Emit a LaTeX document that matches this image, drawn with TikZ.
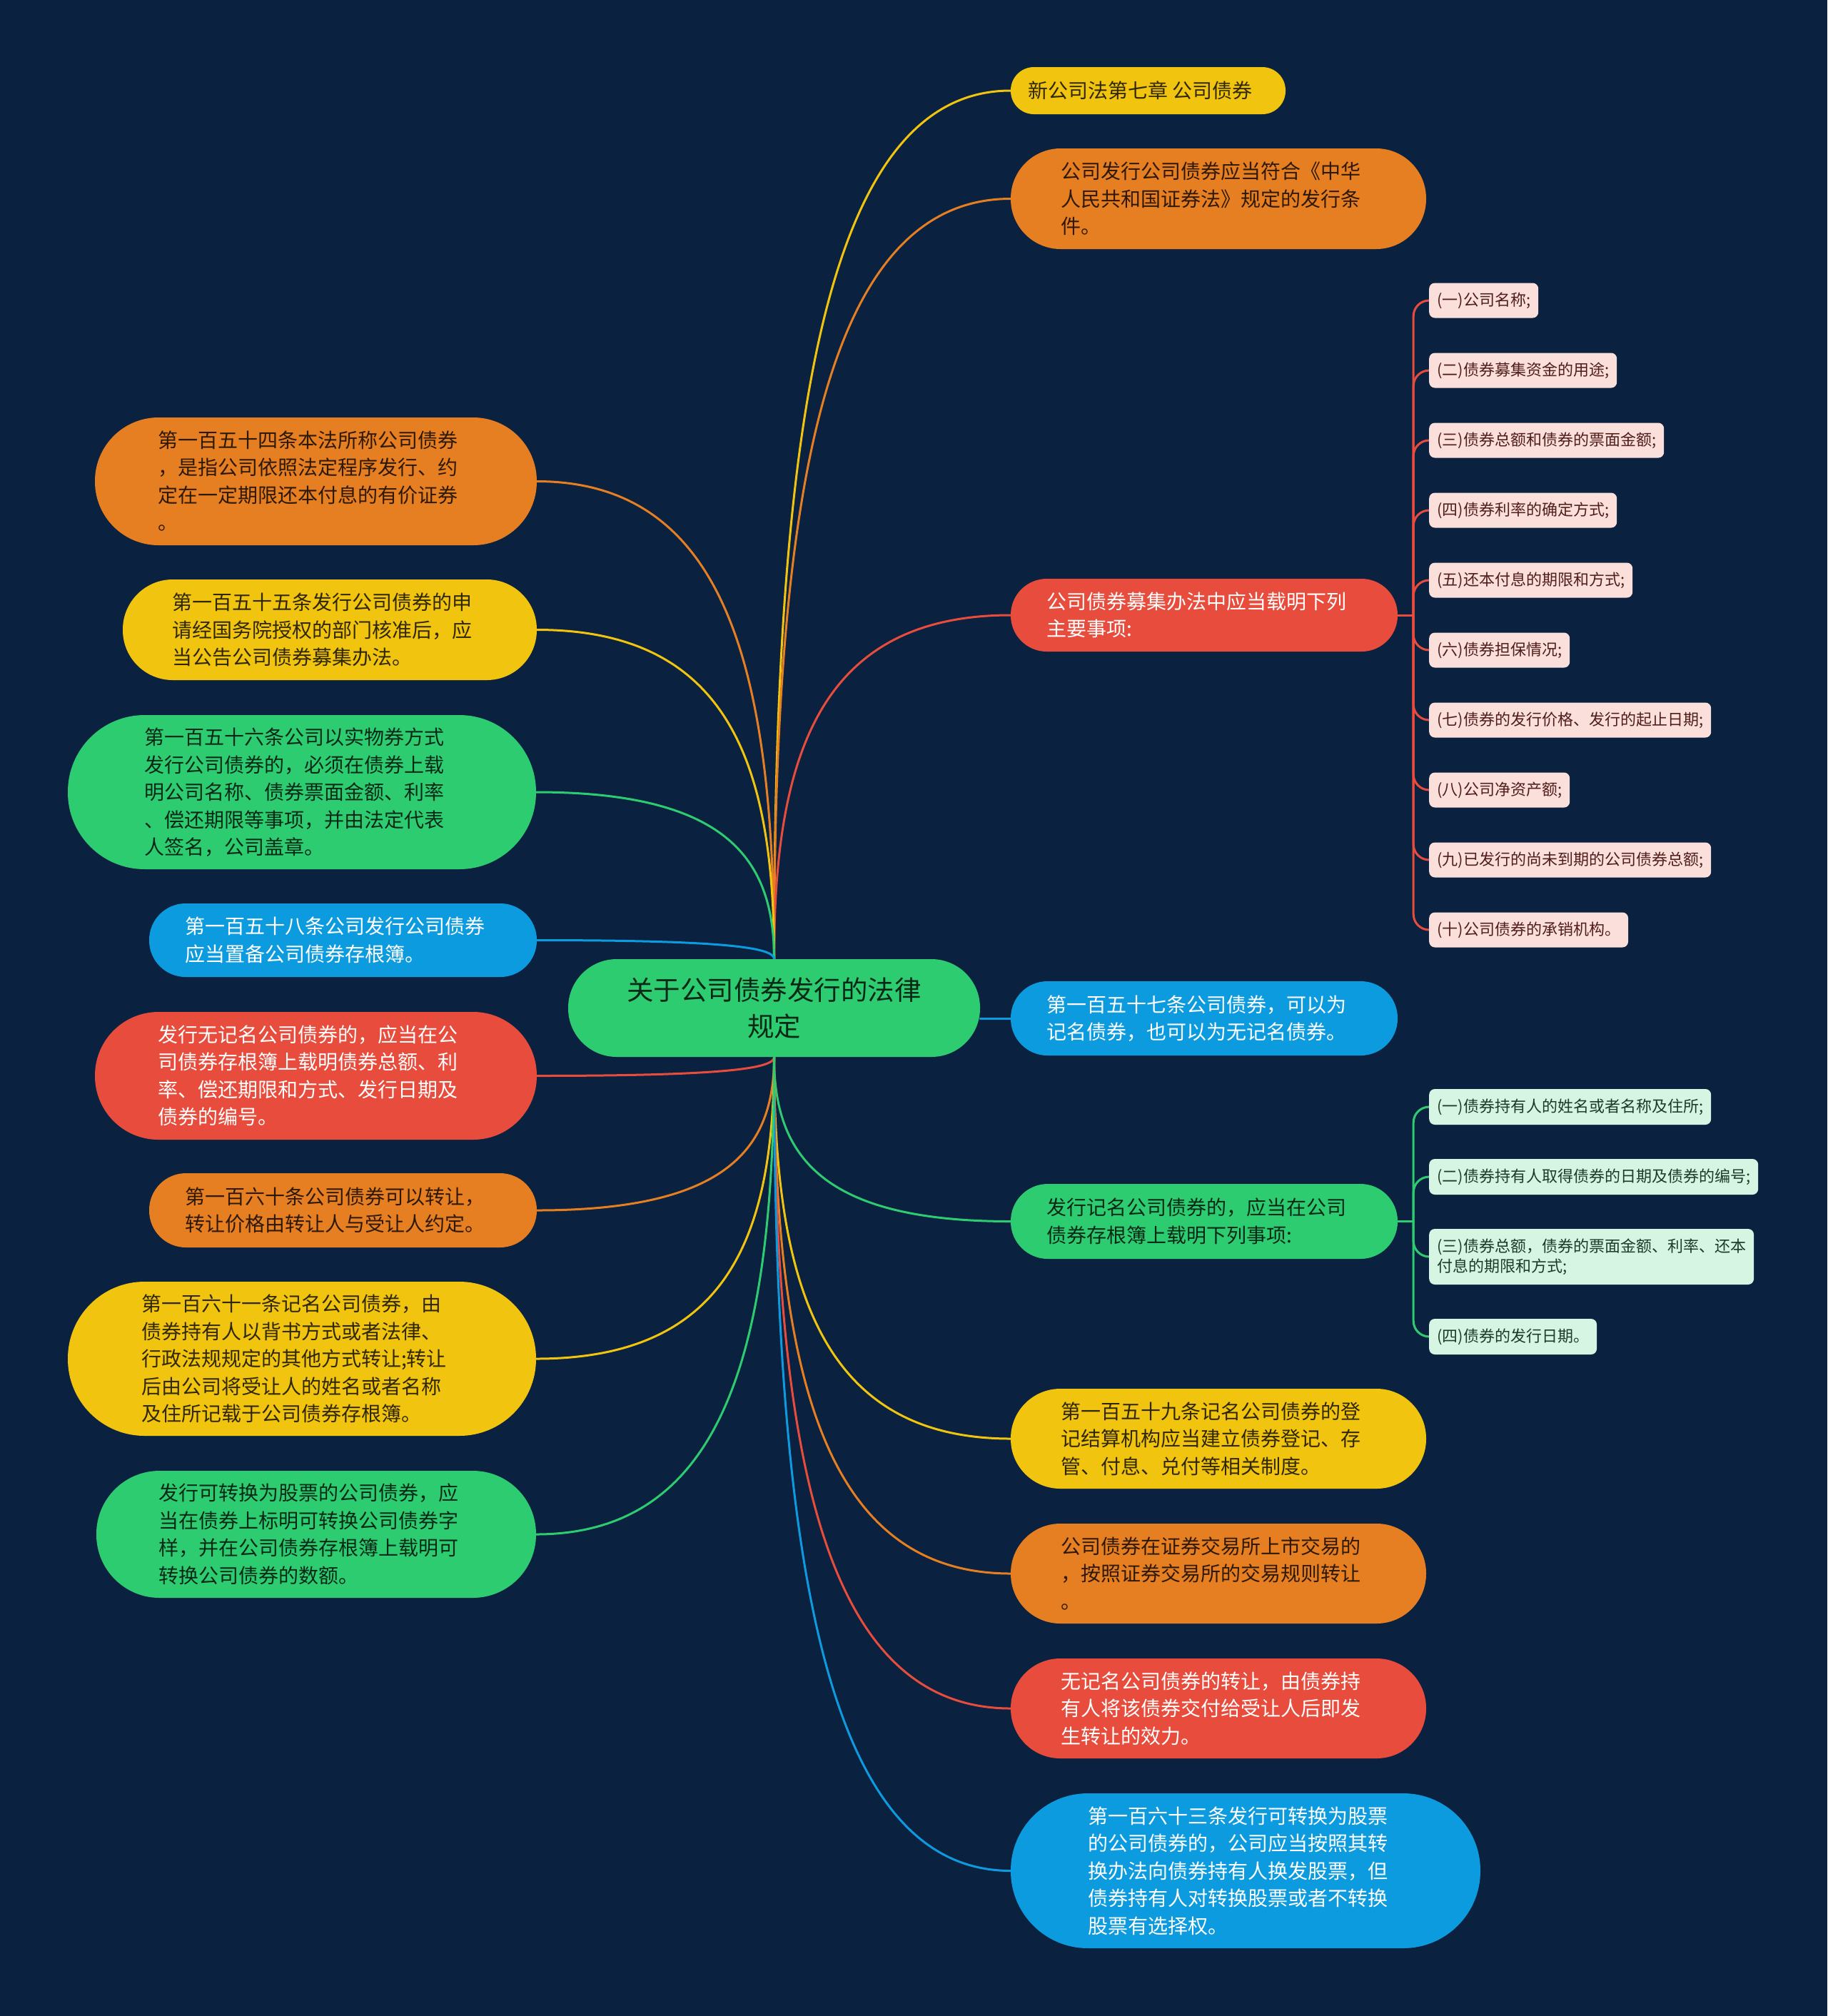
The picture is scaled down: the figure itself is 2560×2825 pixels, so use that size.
\documentclass[tikz,border=0pt]{standalone}
\usepackage{fontspec}
\setmainfont{Noto Sans CJK SC}
\usetikzlibrary{calc}
\pgfdeclarelayer{bg}
\pgfsetlayers{bg,main}
\definecolor{bgc}{RGB}{10,34,64}
\definecolor{cY}{RGB}{241,196,15}
\definecolor{cO}{RGB}{230,126,34}
\definecolor{cR}{RGB}{231,76,60}
\definecolor{cG}{RGB}{46,204,113}
\definecolor{cB}{RGB}{13,155,224}
\definecolor{pinkfill}{RGB}{251,223,219}
\definecolor{mintfill}{RGB}{214,245,227}
\definecolor{pinktext}{RGB}{80,30,26}
\definecolor{minttext}{RGB}{30,58,42}
\tikzset{
  boxsize/.style 2 args={minimum width=#1, minimum height=#2, rounded corners=#2/2-0.5},
  mainbox/.style={rectangle, inner sep=0pt, font=\fontsize{28}{38.5}\selectfont},
  mY/.style={mainbox, fill=cY, text=black!80!cY},
  mO/.style={mainbox, fill=cO, text=black!80!cO},
  mG/.style={mainbox, fill=cG, text=black!80!cG},
  mR/.style={mainbox, fill=cR, text=white},
  mB/.style={mainbox, fill=cB, text=white},
  subP/.style={rectangle, anchor=west, fill=pinkfill, text=pinktext, rounded corners=8pt, inner xsep=11pt, inner ysep=0pt, minimum height=49pt, align=left, font=\fontsize{22}{28}\selectfont},
  subG/.style={rectangle, anchor=west, fill=mintfill, text=minttext, rounded corners=8pt, inner xsep=11pt, inner ysep=0pt, minimum height=50pt, align=left, font=\fontsize{22}{28}\selectfont},
  conn/.style={line width=3pt, draw=#1, line cap=round},
}
\newcommand\tl[1]{\raisebox{0pt}[\dimexpr\height+6pt\relax][\depth]{\begin{tabular}{@{}l@{\hspace{22pt}}}#1\end{tabular}}}
\newcommand\mmlink[3]{\draw[conn=#1] (#2) .. controls ($(#2)!0.6!(#2 |- #3)$) and ($(#2 |- #3)!0.2!(#3)$) .. (#3);}
\newcommand\sublink[3]{\draw[conn=#1, rounded corners=22pt] ($(#2)+(22,0)$) |- (#3);}
\begin{document}
\begin{tikzpicture}[x=1pt, y=-1pt]
\begin{pgfonlayer}{bg}
\fill[bgc] (0,0) rectangle (2560,2825);
\end{pgfonlayer}
\useasboundingbox (0,0) rectangle (2560,2825);

% center
\node[mG, boxsize={577}{137}, align=center, font=\fontsize{37.5}{51}\selectfont] (c) at (1084.5,1412.5) {关于公司债券发行的法律\\规定};

% right side
\node[mY, boxsize={385}{66}] (r1) at (1608.5,127) {\tl{新公司法第七章 公司债券}};
\node[mO, boxsize={582}{141}] (r2) at (1707,278.5) {\tl{公司发行公司债券应当符合《中华\\人民共和国证券法》规定的发行条\\件。}};
\node[mR, boxsize={542}{102}] (r3) at (1687,862) {\tl{公司债券募集办法中应当载明下列\\主要事项:}};
\node[mB, boxsize={542}{104}] (r4) at (1687,1427) {\tl{第一百五十七条公司债券，可以为\\记名债券，也可以为无记名债券。}};
\node[mG, boxsize={542}{105}] (r5) at (1687,1711.5) {\tl{发行记名公司债券的，应当在公司\\债券存根簿上载明下列事项:}};
\node[mY, boxsize={582}{140}] (r6) at (1707,2016) {\tl{第一百五十九条记名公司债券的登\\记结算机构应当建立债券登记、存\\管、付息、兑付等相关制度。}};
\node[mO, boxsize={582}{140}] (r7) at (1707,2205) {\tl{公司债券在证券交易所上市交易的\\，按照证券交易所的交易规则转让\\。}};
\node[mR, boxsize={582}{140}] (r8) at (1707,2394) {\tl{无记名公司债券的转让，由债券持\\有人将该债券交付给受让人后即发\\生转让的效力。}};
\node[mB, boxsize={658}{217}] (r9) at (1745,2621.5) {\tl{第一百六十三条发行可转换为股票\\的公司债券的，公司应当按照其转\\换办法向债券持有人换发股票，但\\债券持有人对转换股票或者不转换\\股票有选择权。}};

% left side
\node[mO, boxsize={619}{179}] (l1) at (442.5,674.5) {\tl{第一百五十四条本法所称公司债券\\，是指公司依照法定程序发行、约\\定在一定期限还本付息的有价证券\\。}};
\node[mY, boxsize={580}{141}] (l2) at (462,882.5) {\tl{第一百五十五条发行公司债券的申\\请经国务院授权的部门核准后，应\\当公告公司债券募集办法。}};
\node[mG, boxsize={656}{216}] (l3) at (423,1110) {\tl{第一百五十六条公司以实物券方式\\发行公司债券的，必须在债券上载\\明公司名称、债券票面金额、利率\\、偿还期限等事项，并由法定代表\\人签名，公司盖章。}};
\node[mB, boxsize={543}{103}] (l4) at (480.5,1317.5) {\tl{第一百五十八条公司发行公司债券\\应当置备公司债券存根簿。}};
\node[mR, boxsize={619}{179}] (l5) at (442.5,1507.5) {\tl{发行无记名公司债券的，应当在公\\司债券存根簿上载明债券总额、利\\率、偿还期限和方式、发行日期及\\债券的编号。}};
\node[mO, boxsize={543}{104}] (l6) at (480.5,1696) {\tl{第一百六十条公司债券可以转让，\\转让价格由转让人与受让人约定。}};
\node[mY, boxsize={656}{216}] (l7) at (423,1904) {\tl{第一百六十一条记名公司债券，由\\债券持有人以背书方式或者法律、\\行政法规规定的其他方式转让;转让\\后由公司将受让人的姓名或者名称\\及住所记载于公司债券存根簿。}};
\node[mG, boxsize={616}{178}] (l8) at (443,2150) {\tl{发行可转换为股票的公司债券，应\\当在债券上标明可转换公司债券字\\样，并在公司债券存根簿上载明可\\转换公司债券的数额。}};

% pink sub items
\node[subP] (p1) at (2002,421) {(一)公司名称;};
\node[subP] (p2) at (2002,519) {(二)债券募集资金的用途;};
\node[subP] (p3) at (2002,617) {(三)债券总额和债券的票面金额;};
\node[subP] (p4) at (2002,715) {(四)债券利率的确定方式;};
\node[subP] (p5) at (2002,813) {(五)还本付息的期限和方式;};
\node[subP] (p6) at (2002,911) {(六)债券担保情况;};
\node[subP] (p7) at (2002,1009) {(七)债券的发行价格、发行的起止日期;};
\node[subP] (p8) at (2002,1107) {(八)公司净资产额;};
\node[subP] (p9) at (2002,1205) {(九)已发行的尚未到期的公司债券总额;};
\node[subP] (p10) at (2002,1303) {(十)公司债券的承销机构。};

% green sub items
\node[subG] (g1) at (2002,1551) {(一)债券持有人的姓名或者名称及住所;};
\node[subG] (g2) at (2002,1649) {(二)债券持有人取得债券的日期及债券的编号;};
\node[subG, minimum height=78pt] (g3) at (2002,1761) {(三)债券总额，债券的票面金额、利率、还本\\付息的期限和方式;};
\node[subG] (g4) at (2002,1873) {(四)债券的发行日期。};

\begin{pgfonlayer}{bg}
\mmlink{cY}{c.north}{r1.west}
\mmlink{cO}{c.north}{r2.west}
\mmlink{cR}{c.north}{r3.west}
\draw[conn=cB] (c.east |- r4.west) -- (r4.west);
\mmlink{cG}{c.south}{r5.west}
\mmlink{cY}{c.south}{r6.west}
\mmlink{cO}{c.south}{r7.west}
\mmlink{cR}{c.south}{r8.west}
\mmlink{cB}{c.south}{r9.west}
\mmlink{cO}{c.north}{l1.east}
\mmlink{cY}{c.north}{l2.east}
\mmlink{cG}{c.north}{l3.east}
\mmlink{cB}{c.north}{l4.east}
\mmlink{cR}{c.south}{l5.east}
\mmlink{cO}{c.south}{l6.east}
\mmlink{cY}{c.south}{l7.east}
\mmlink{cG}{c.south}{l8.east}
\draw[conn=cR] (r3.east) -- ++(22,0);
\foreach \s in {p1,p2,p3,p4,p5,p6,p7,p8,p9,p10}{\sublink{cR}{r3.east}{\s.west}}
\draw[conn=cG] (r5.east) -- ++(22,0);
\foreach \s in {g1,g2,g3,g4}{\sublink{cG}{r5.east}{\s.west}}
\end{pgfonlayer}
\end{tikzpicture}
\end{document}
